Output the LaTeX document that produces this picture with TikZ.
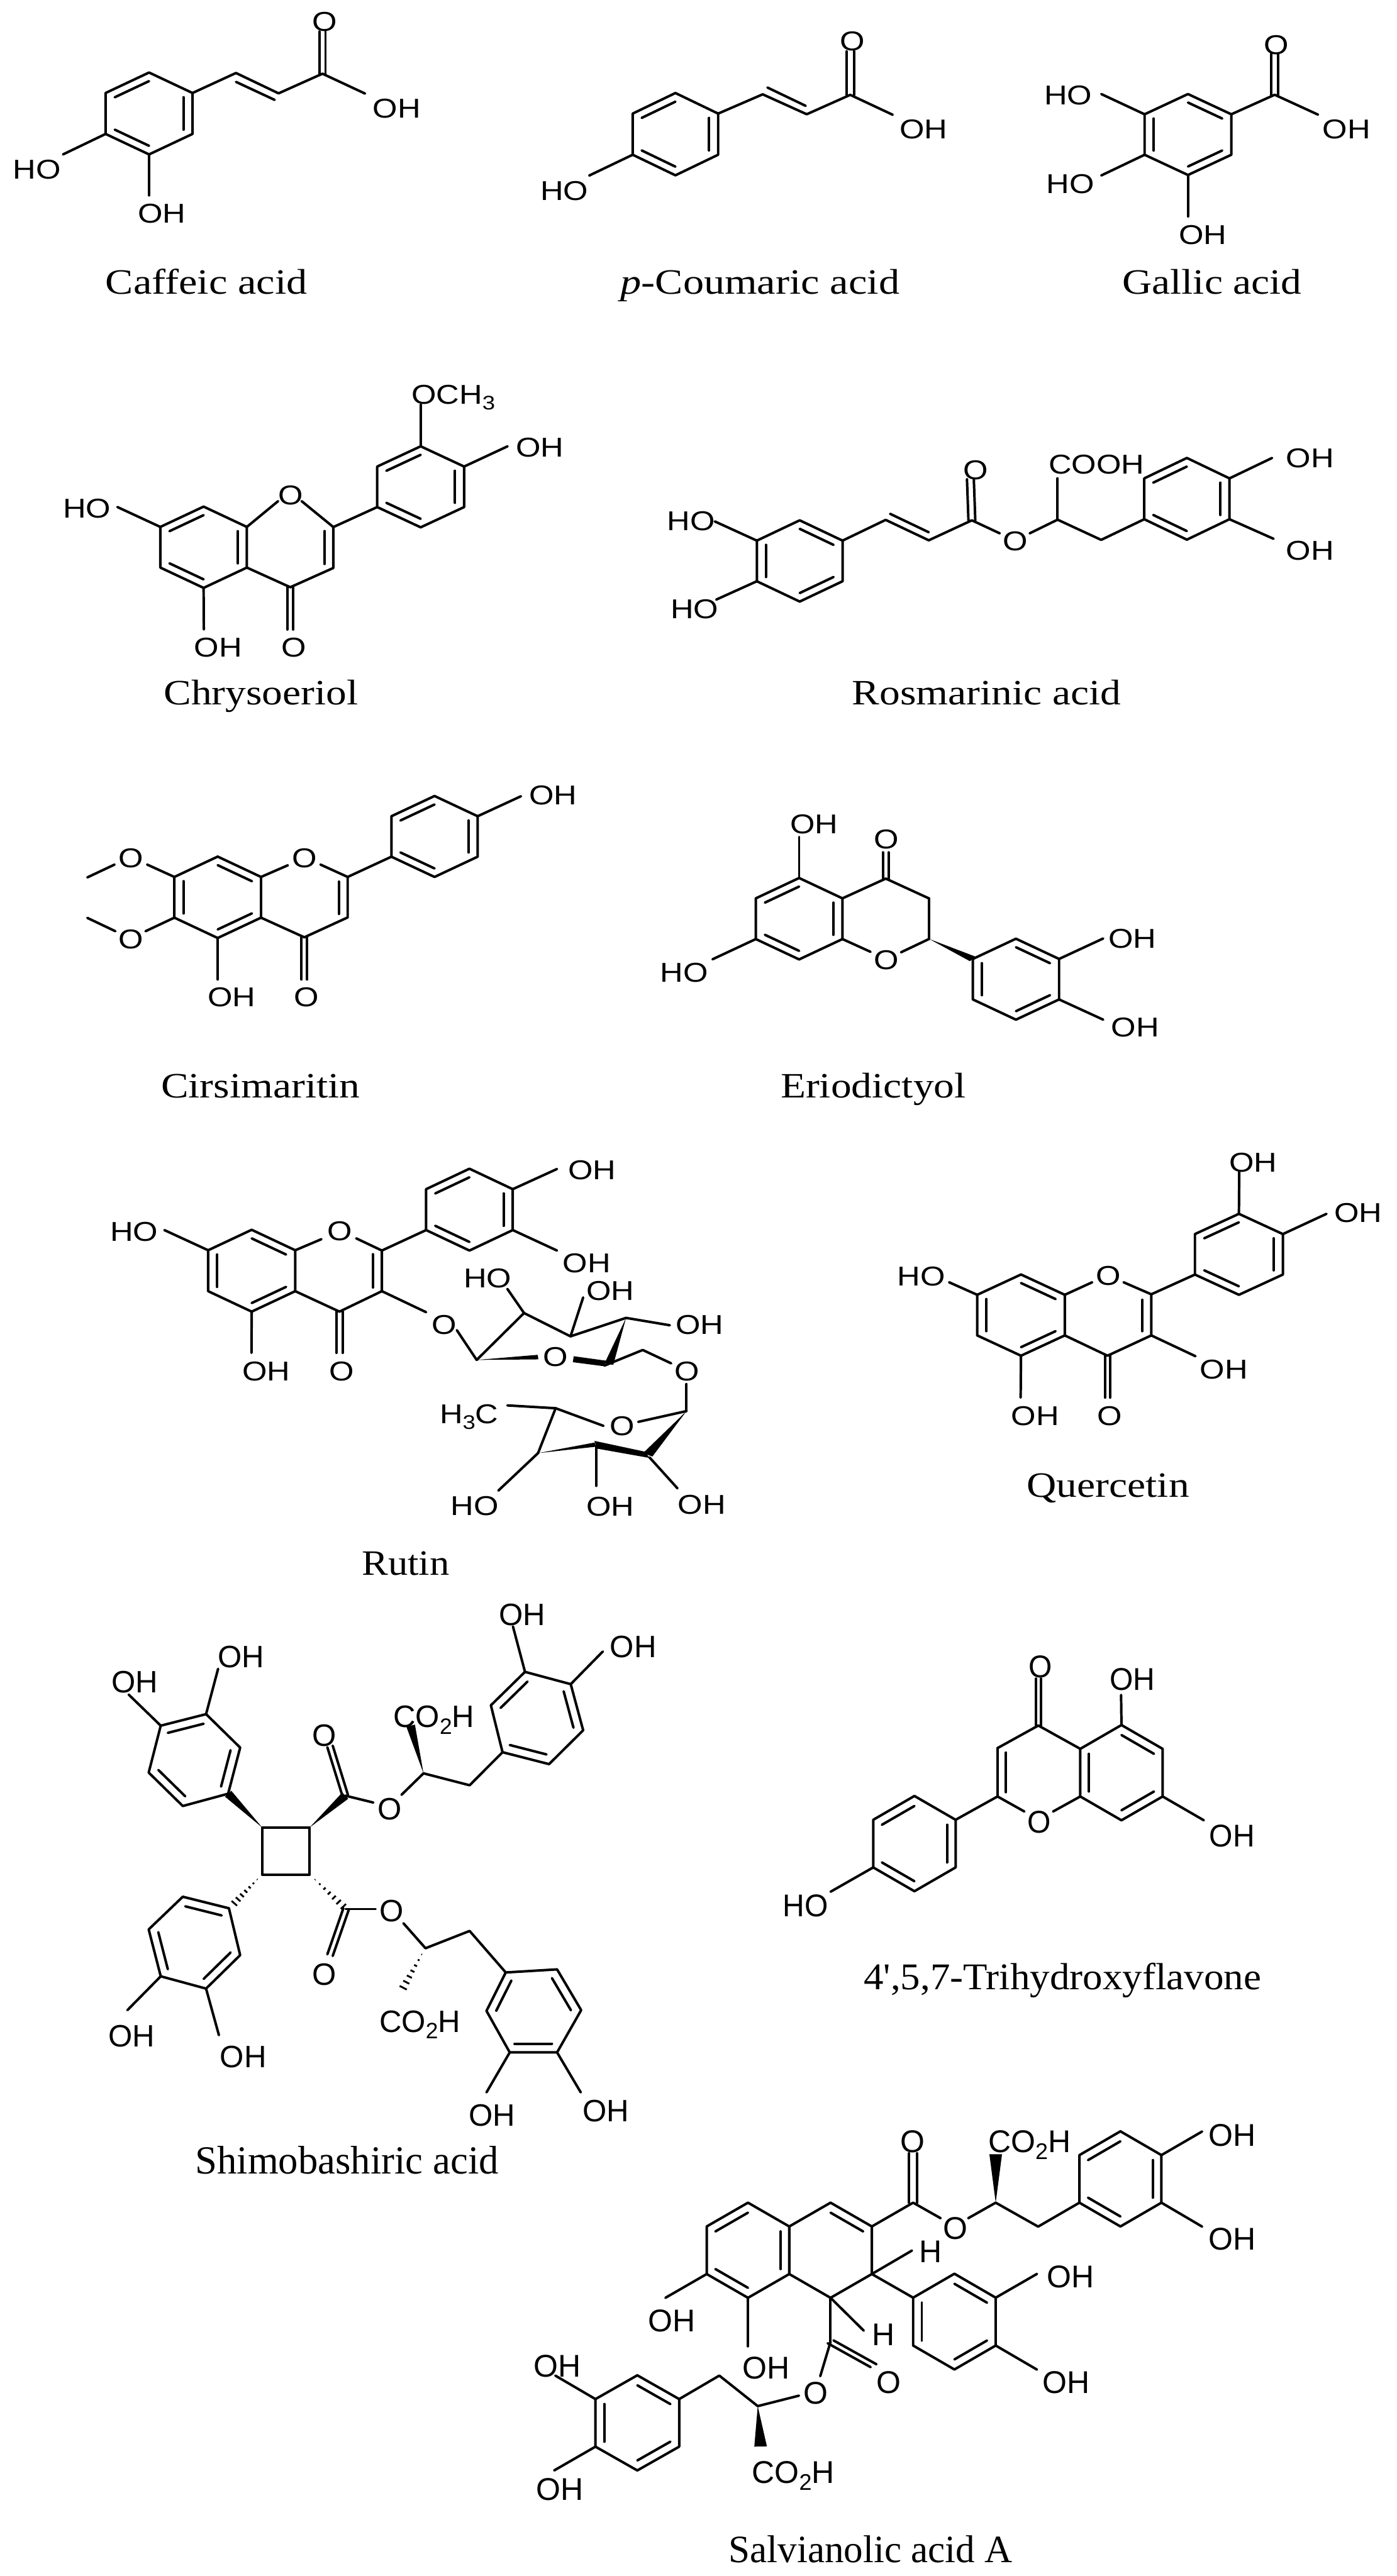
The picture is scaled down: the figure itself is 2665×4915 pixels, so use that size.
\documentclass[tikz,border=0pt]{standalone}
\usepackage{fontspec}
\usepackage{graphicx}
\usetikzlibrary{calc}
\newfontfamily\capfont{Liberation Serif}
\newfontfamily\chemfont{Liberation Sans}
\tikzset{
  bond/.style={line width=.95pt,line cap=round,line join=round,black},
  chemlabel/.style={inner sep=0pt,outer sep=0pt,anchor=base west,black},
  molname/.style={inner sep=0pt,outer sep=0pt,anchor=base,black},
  zoomed/.style n args={4}{shift={(#1,-#2)},xscale=#3/1568,yscale=-#4/1568}
}
\newcommand\labsize{10.4}
\newcommand\labx{1.17}
\newcommand\SetLab[2]{\renewcommand\labsize{#1}\renewcommand\labx{#2}}
\newcommand\Lb[4]{\node[chemlabel] (#1) at (#2,#3) {\scalebox{\labx}[1]{\fontsize{\labsize pt}{\labsize pt}\selectfont\chemfont #4}};}
\newcommand\Sb[1]{\raisebox{-.22em}{\scalebox{.72}{#1}}}
\newcommand\At[3]{\coordinate (#1) at (#2,#3);}
\newcommand\To[4]{\coordinate (#2) at (#3,#4); \draw[bond] (#1) -- (#2);}
\newcommand\Inn[3]{\draw[bond] ($(#1)!.79!(#2)$) -- ($(#1)!.79!(#3)$);}
\newcommand\Hexagon[1]{\draw[bond] (#11)--(#12)--(#13)--(#14)--(#15)--(#16)--cycle;}
\newcommand\Hex[6]{%
  \coordinate (#1c) at (#2,#3);
  \coordinate (#11) at (#2,#3-#5);
  \coordinate (#12) at (#2+#4,#3-#5/2);
  \coordinate (#13) at (#2+#4,#3+#5/2);
  \coordinate (#14) at (#2,#3+#5);
  \coordinate (#15) at (#2-#4,#3+#5/2);
  \coordinate (#16) at (#2-#4,#3-#5/2);
  \Hexagon{#1}
  \foreach \p/\q in {#6} {\Inn{#1c}{#1\p}{#1\q}}
}
\newcommand\Dbl[2]{%
  \draw[bond] ($(#1)!1.4pt!90:(#2)$) -- ($(#2)!1.4pt!-90:(#1)$);
  \draw[bond] ($(#1)!1.4pt!-90:(#2)$) -- ($(#2)!1.4pt!90:(#1)$);}
\newcommand\Wdg[3]{\fill[black] (#1) -- ($(#2)!#3!90:(#1)$) -- ($(#2)!#3!-90:(#1)$) -- cycle;}
\newcommand\Hash[3]{%
  \foreach \t in {.08,.22,.36,.5,.64,.78,.92} {%
    \pgfmathsetlengthmacro\hw{#3*\t}%
    \draw[line width=.7pt,black] ($(#1)!\t!(#2)!\hw!90:(#2)$) -- ($(#1)!\t!(#2)!\hw!-90:(#2)$);}}
\newcommand\Cp[6]{\node[molname] (#1) at (#2,#3) {\scalebox{#5}[1]{\fontsize{#4 pt}{#4 pt}\selectfont\capfont #6}};}
\begin{document}
\begin{tikzpicture}[x=0.2pt,y=0.2pt]
\useasboundingbox (0,0) rectangle (2665,-4915);
\fill[white] (0,0) rectangle (2665,-4915);

% ---------- captions (full-size coordinates)
\begin{scope}[yscale=-1]
\Cp{capA}{394}{561}{13.6}{1.17}{Caffeic acid}
\Cp{capB}{1450}{561}{13.6}{1.17}{{\itshape p}-Coumaric acid}
\Cp{capC}{2312}{561}{13.6}{1.155}{Gallic acid}
\Cp{capD}{498}{1345}{13.6}{1.155}{Chrysoeriol}
\Cp{capE}{1882}{1345}{13.6}{1.155}{Rosmarinic acid}
\Cp{capF}{497}{2094}{13.6}{1.155}{Cirsimaritin}
\Cp{capG}{1666}{2094}{13.6}{1.155}{Eriodictyol}
\Cp{capH}{774}{3005}{13.6}{1.105}{Rutin}
\Cp{capI}{2114}{2857}{13.6}{1.155}{Quercetin}
\Cp{capJ}{662}{4147}{15.2}{.99}{Shimobashiric acid}
\Cp{capK}{2027}{3796}{14.4}{1.05}{4',5,7-Trihydroxyflavone}
\Cp{capL}{1661}{4889}{14.8}{.99}{Salvianolic acid A}
\end{scope}

% ---------- Caffeic acid
\begin{scope}[zoomed={0}{0}{1300}{700}]
\Hex{aR}{343}{485}{100}{175}{6/1,2/3,4/5}
\To{aR2}{a1}{543}{312}
\To{a1}{a2}{641}{399}
\draw[bond] (543,350)--(632,427);
\To{a2}{a3}{742}{315}
\At{a4}{742}{135}
\Dbl{a3}{a4}
\To{a3}{a5}{840}{400}
\To{aR5}{a6}{145}{660}
\To{aR4}{a7}{343}{835}
\Lb{aO}{718}{132}{O}
\Lb{aOH}{858}{503}{OH}
\Lb{aHO}{30}{765}{HO}
\Lb{aOHb}{317}{952}{OH}
\end{scope}

% ---------- p-Coumaric acid
\begin{scope}[yscale=-1]
\Hex{bR}{1288.5}{256}{81.5}{78.5}{6/1,2/3,4/5}
\To{bR2}{b1}{1455}{180}
\To{b1}{b2}{1539}{218}
\draw[bond] (1464,167)--(1537,202);
\To{b2}{b3}{1622}{181}
\At{b4}{1622}{98}
\Dbl{b3}{b4}
\To{b3}{b5}{1703}{219}
\To{bR5}{b6}{1124}{335}
\Lb{bO}{1602}{97}{O}
\Lb{bOH}{1716}{264}{OH}
\Lb{bHO}{1031}{382}{HO}
\end{scope}

% ---------- Gallic acid
\begin{scope}[zoomed={1300}{0}{1365}{700}]
\Hex{cR}{1110}{575}{95}{173}{1/2,3/4,5/6}
\To{cR2}{c1}{1300}{405}
\At{c2}{1300}{230}
\Dbl{c1}{c2}
\To{c1}{c3}{1395}{490}
\To{cR6}{c4}{920}{402}
\To{cR5}{c5}{920}{750}
\To{cR4}{c6}{1110}{925}
\Lb{cO}{1277}{232}{O}
\Lb{cOH}{1405}{592}{OH}
\Lb{cHOa}{795}{448}{HO}
\Lb{cHOb}{800}{827}{HO}
\Lb{cOHb}{1090}{1043}{OH}
\end{scope}

% ---------- Chrysoeriol
\begin{scope}[zoomed={0}{650}{1300}{800}]
\Hex{dA}{468.5}{772.5}{99.5}{152}{6/1,4/5,2/3}
\To{dA2}{d1}{640}{600}
\At{d2}{694}{600}
\At{d3}{767}{697}
\At{d4}{767}{850}
\At{d5}{668}{922}
\draw[bond] (d2)--(d3)--(d4)--(d5)--(dA3);
\draw[bond] (747,712)--(747,835);
\At{d6}{668}{1080}
\Dbl{d5}{d6}
\To{dA4}{d7}{469}{1080}
\To{dA6}{d8}{270}{622}
\Hex{dB}{968}{546.5}{100}{151.5}{6/1,2/3,4/5}
\draw[bond] (d3)--(dB5);
\To{dB1}{d9}{968}{240}
\To{dB2}{d10}{1168}{395}
\Lb{dOr}{640}{614}{O}
\Lb{dO}{647}{1183}{O}
\Lb{dOHa}{447}{1183}{OH}
\Lb{dHO}{145}{662}{HO}
\Lb{dOMe}{947}{237}{OCH\Sb{3}}
\Lb{dOHb}{1187}{435}{OH}
\end{scope}

% ---------- Rosmarinic acid
\begin{scope}[zoomed={1200}{800}{1465}{650}]
\Hex{eA}{348.5}{652}{87.5}{187}{1/2,3/4,5/6}
\To{eA2}{e1}{524}{463}
\To{e1}{e2}{612}{557}
\draw[bond] (533,435)--(612,520);
\To{e2}{e3}{700}{465}
\At{e4}{697}{275}
\Dbl{e3}{e4}
\To{e3}{e5}{757}{525}
\At{e6}{818}{525}
\At{e7}{875}{462}
\draw[bond] (e6)--(e7);
\To{e7}{e8}{875}{272}
\To{e7}{e9}{964}{555}
\Hex{eB}{1139}{366}{87}{188}{6/1,2/3,4/5}
\draw[bond] (e9)--(eB5);
\To{eB2}{e10}{1313}{178}
\To{eB3}{e11}{1316}{550}
\To{eA6}{e12}{175}{470}
\To{eA5}{e13}{178}{830}
\Lb{eO}{683}{278}{O}
\Lb{eOe}{764}{605}{O}
\Lb{eCOOH}{857}{250}{COOH}
\Lb{eOHa}{1342}{222}{OH}
\Lb{eOHb}{1342}{648}{OH}
\Lb{eHOa}{78}{513}{HO}
\Lb{eHOb}{85}{918}{HO}
\end{scope}

% ---------- Cirsimaritin
\begin{scope}[zoomed={100}{1450}{1200}{700}]
\Hex{fA}{412}{587}{108}{174}{1/2,3/4,5/6}
\To{fA2}{f1}{587}{450}
\At{f2}{668}{447}
\At{f3}{736}{500}
\At{f4}{736}{673}
\At{f5}{628}{758}
\draw[bond] (f2)--(f3)--(f4)--(f5)--(fA3);
\draw[bond] (714,520)--(714,658);
\At{f6}{628}{938}
\Dbl{f5}{f6}
\To{fA4}{f7}{412}{938}
\Hex{fB}{952.5}{327}{107.5}{173}{6/1,2/3,4/5}
\draw[bond] (f3)--(fB5);
\To{fB2}{f8}{1168}{155}
\To{fA6}{f9}{236}{447}
\At{f10}{155}{447}
\At{f11}{87}{502}
\draw[bond] (f10)--(f11);
\To{fA5}{f12}{232}{732}
\At{f13}{157}{732}
\At{f14}{87}{675}
\draw[bond] (f13)--(f14);
\Lb{fOr}{598}{460}{O}
\Lb{fO}{602}{1055}{O}
\Lb{fOH}{387}{1055}{OH}
\Lb{fOHb}{1188}{190}{OH}
\Lb{fOa}{165}{460}{O}
\Lb{fOb}{165}{807}{O}
\end{scope}

% ---------- Eriodictyol
\begin{scope}[zoomed={1200}{1450}{1200}{700}]
\Hex{gA}{424}{678.5}{108}{174}{6/1,2/3,4/5}
\To{gA2}{g1}{640}{507}
\To{g1}{g2}{748}{592}
\To{g2}{g3}{748}{765}
\To{g3}{g4}{678}{822}
\At{g5}{602}{820}
\draw[bond] (g5)--(gA3);
\At{g6}{640}{395}
\Dbl{g1}{g6}
\To{gA1}{g7}{424}{330}
\To{gA5}{g8}{208}{852}
\Hex{gB}{964.5}{937}{107.5}{173}{1/2,5/6,3/4}
\Wdg{g3}{gB6}{2.4pt}
\To{gB2}{g9}{1182}{763}
\To{gB3}{g10}{1182}{1110}
\Lb{gOr}{611}{895}{O}
\Lb{gO}{611}{378}{O}
\Lb{gOHa}{402}{316}{OH}
\Lb{gHO}{78}{948}{HO}
\Lb{gOHb}{1195}{803}{OH}
\Lb{gOHc}{1202}{1182}{OH}
\end{scope}

% ---------- Rutin
\begin{scope}[zoomed={150}{2180}{1350}{850}]
\Hex{hA}{383.5}{451}{96.5}{144}{1/2,3/4,5/6}
\To{hA2}{h1}{538}{340}
\At{h2}{615}{337}
\At{h3}{672}{380}
\At{h4}{672}{523}
\At{h5}{578}{595}
\draw[bond] (h2)--(h3)--(h4)--(h5)--(hA3);
\draw[bond] (652,393)--(652,510);
\At{h6}{578}{740}
\Dbl{h5}{h6}
\To{hA4}{h7}{383}{740}
\To{hA6}{h8}{190}{308}
\Hex{hB}{866}{236}{96}{144}{6/1,2/3,4/5}
\draw[bond] (h3)--(hB5);
\To{hB2}{h9}{1060}{93}
\To{hB3}{h10}{1060}{380}
\To{h4}{h11}{770}{597}
\At{h12}{838}{660}
\To{h12}{h13}{882}{765}
\To{h13}{h14}{987}{600}
\To{h14}{h15}{1090}{682}
\To{h15}{h16}{1213}{617}
\At{h17}{1018}{755}
\Wdg{h13}{h17}{1.6pt}
\At{h18}{1175}{780}
\Wdg{h16}{h18}{2pt}
\fill[black] (1097,752)--(1170,768)--(1163,787)--(1095,773)--cycle;
\At{h19}{1165}{785}
\To{h19}{h20}{1250}{730}
\To{h20}{h21}{1313}{777}
\To{h14}{h22}{950}{515}
\To{h15}{h23}{1118}{545}
\To{h16}{h24}{1310}{643}
\At{h25}{1347}{850}
\To{h25}{h26}{1347}{945}
\To{h26}{h27}{1240}{983}
\At{h28}{1163}{997}
\To{h28}{h29}{1057}{935}
\To{h29}{h30}{950}{925}
\To{h29}{h31}{1018}{1093}
\At{h32}{1145}{1063}
\Wdg{h31}{h32}{1.5pt}
\fill[black] (1143,1050)--(1255,1088)--(1265,1110)--(1148,1077)--cycle;
\At{h33}{1261}{1099}
\Wdg{h26}{h33}{2.4pt}
\To{h31}{h34}{930}{1225}
\At{h35}{1147}{1070}
\To{h35}{h36}{1147}{1208}
\At{h37}{1265}{1108}
\To{h37}{h38}{1327}{1217}
\Lb{hOr}{551}{345}{O}
\Lb{hO}{555}{838}{O}
\Lb{hOHa}{363}{838}{OH}
\Lb{hHOa}{70}{347}{HO}
\Lb{hOHb}{1085}{130}{OH}
\Lb{hOHc}{1073}{458}{OH}
\Lb{hOe}{782}{675}{O}
\Lb{hOs}{1029}{788}{O}
\Lb{hOl}{1320}{838}{O}
\Lb{hHOb}{853}{510}{HO}
\Lb{hOHd}{1125}{555}{OH}
\Lb{hOHe}{1323}{675}{OH}
\Lb{hOt}{1177}{1032}{O}
\Lb{hMe}{800}{988}{H\Sb{3}C}
\Lb{hHOc}{825}{1313}{HO}
\Lb{hOHf}{1125}{1315}{OH}
\Lb{hOHg}{1328}{1308}{OH}
\end{scope}

% ---------- Quercetin
\begin{scope}[zoomed={1600}{2150}{1065}{750}]
\Hex{iA}{512}{751}{123}{162}{1/2,3/4,5/6}
\To{iA2}{i1}{712}{620}
\At{i2}{800}{620}
\At{i3}{878}{668}
\At{i4}{878}{832}
\At{i5}{755}{913}
\draw[bond] (i2)--(i3)--(i4)--(i5)--(iA3);
\draw[bond] (853,690)--(853,815);
\At{i6}{755}{1080}
\Dbl{i5}{i6}
\To{iA4}{i7}{511}{1080}
\To{i4}{i8}{1002}{915}
\To{iA6}{i9}{310}{620}
\Hex{iB}{1124}{508.5}{123.5}{161.5}{6/1,2/3,4/5}
\draw[bond] (i3)--(iB5);
\To{iB1}{i10}{1125}{180}
\To{iB2}{i11}{1370}{347}
\Lb{iOr}{722}{632}{O}
\Lb{iO}{727}{1190}{O}
\Lb{iOHa}{485}{1192}{OH}
\Lb{iOHb}{1015}{1005}{OH}
\Lb{iHO}{165}{634}{HO}
\Lb{iOHc}{1097}{180}{OH}
\Lb{iOHd}{1392}{380}{OH}
\end{scope}

% ---------- Shimobashiric acid
\begin{scope}[zoomed={100}{3030}{1200}{1150}]
\SetLab{11.8}{1}
\At{js1}{523}{623}\At{js2}{641}{623}\At{js3}{641}{746}\At{js4}{523}{746}
\draw[bond] (js1)--(js2)--(js3)--(js4)--cycle;
% upper left ring
\At{jA1}{270}{358}\At{jA2}{383}{328}\At{jA3}{468}{415}\At{jA4}{438}{535}\At{jA5}{325}{567}\At{jA6}{240}{480}\At{jAc}{354}{447}
\Hexagon{jA}
\Inn{jAc}{jA1}{jA2}\Inn{jAc}{jA3}{jA4}\Inn{jAc}{jA5}{jA6}
\Wdg{js1}{jA4}{2.2pt}
\To{jA1}{j1}{190}{277}
\To{jA2}{j2}{413}{210}
% upper right ester
\At{j3}{730}{540}
\Wdg{js2}{j3}{2.2pt}
\At{j4}{692}{412}
\Dbl{j3}{j4}
\To{j3}{j5}{800}{558}
\At{j6}{870}{538}
\To{j6}{j7}{925}{482}
\At{j8}{893}{358}
\Wdg{j7}{j8}{2.2pt}
\To{j7}{j9}{1040}{513}
\At{jB1}{1122}{427}\At{jB2}{1238}{458}\At{jB3}{1323}{370}\At{jB4}{1292}{250}\At{jB5}{1178}{218}\At{jB6}{1093}{305}\At{jBc}{1208}{338}
\Hexagon{jB}
\Inn{jBc}{jB1}{jB2}\Inn{jBc}{jB3}{jB4}\Inn{jBc}{jB5}{jB6}
\draw[bond] (j9)--(jB1);
\To{jB5}{j10}{1148}{100}
\To{jB4}{j11}{1372}{165}
% lower left ring
\At{jC1}{440}{833}\At{jC2}{325}{803}\At{jC3}{240}{888}\At{jC4}{270}{1010}\At{jC5}{383}{1042}\At{jC6}{468}{955}\At{jCc}{354}{922}
\Hexagon{jC}
\Inn{jCc}{jC1}{jC2}\Inn{jCc}{jC3}{jC4}\Inn{jCc}{jC5}{jC6}
\At{j12}{516}{752}
\At{j13}{448}{826}
\Hash{j12}{j13}{2pt}
\To{jC4}{j14}{187}{1098}
\To{jC5}{j15}{415}{1163}
% lower right ester
\At{j16}{732}{835}
\At{j17}{648}{752}
\Hash{j17}{j16}{2pt}
\To{j16}{j18}{805}{835}
\At{j19}{692}{955}
\Dbl{j16}{j19}
\At{j20}{875}{872}
\To{j20}{j21}{930}{937}
\To{j21}{j22}{1040}{892}
\At{j23}{925}{945}
\At{j24}{870}{1048}
\Hash{j23}{j24}{2.2pt}
\At{jD1}{1130}{1000}\At{jD2}{1258}{992}\At{jD3}{1318}{1098}\At{jD4}{1258}{1208}\At{jD5}{1140}{1208}\At{jD6}{1082}{1100}\At{jDc}{1197}{1100}
\Hexagon{jD}
\Inn{jDc}{jD1}{jD6}\Inn{jDc}{jD2}{jD3}\Inn{jDc}{jD4}{jD5}
\draw[bond] (j22)--(jD1);
\To{jD5}{j25}{1082}{1312}
\To{jD4}{j26}{1317}{1312}
\Lb{jOHa}{147}{272}{OH}
\Lb{jOHb}{413}{207}{OH}
\Lb{jO}{648}{412}{O}
\Lb{jOe}{811}{602}{O}
\Lb{jCOa}{850}{362}{CO\Sb{2}H}
\Lb{jOHc}{1113}{97}{OH}
\Lb{jOHd}{1390}{180}{OH}
\Lb{jOHe}{140}{1194}{OH}
\Lb{jOHf}{418}{1248}{OH}
\Lb{jOf}{816}{868}{O}
\Lb{jOg}{648}{1033}{O}
\Lb{jCOb}{815}{1155}{CO\Sb{2}H}
\Lb{jOHg}{1038}{1400}{OH}
\Lb{jOHh}{1322}{1388}{OH}
\end{scope}

% ---------- 4',5,7-Trihydroxyflavone
\begin{scope}[zoomed={1400}{3100}{1100}{750}]
\SetLab{12}{.96}
\Hex{kA}{1054}{590}{112}{190}{1/2,3/4,5/6}
\To{kA6}{k1}{828}{402}
\To{k1}{k2}{717}{492}
\To{k2}{k3}{717}{685}
\draw[bond] (740,510)--(740,668);
\To{k3}{k4}{790}{745}
\At{k5}{868}{745}
\draw[bond] (k5)--(kA5);
\At{k6}{828}{215}
\Dbl{k1}{k6}
\To{kA1}{k7}{1053}{280}
\To{kA3}{k8}{1278}{780}
\Hex{kB}{491}{873}{112}{190}{6/1,2/3,4/5}
\draw[bond] (k3)--(kB2);
\To{kB5}{k9}{263}{1065}
\Lb{kOr}{799}{830}{O}
\Lb{kO}{801}{210}{O}
\Lb{kOHa}{1022}{262}{OH}
\Lb{kOHb}{1293}{885}{OH}
\Lb{kHO}{133}{1163}{HO}
\end{scope}

% ---------- Salvianolic acid A
\begin{scope}[zoomed={950}{4020}{1715}{895}]
\SetLab{12}{1}
\Hex{lA}{436}{479}{72}{159}{6/1,2/3,4/5}
\Hex{lB}{580}{479}{72}{159}{1/2}
\To{lB2}{l1}{724}{320}
\At{l2}{724}{155}
\Dbl{l1}{l2}
\To{l1}{l3}{772}{372}
\At{l4}{820}{372}
\To{l4}{l5}{868}{320}
\At{l6}{868}{158}
\Wdg{l5}{l6}{2.2pt}
\To{l5}{l7}{942}{400}
\Hex{lC}{1085.5}{240.5}{71.5}{159}{6/1,2/3,4/5}
\draw[bond] (l7)--(lC5);
\To{lC2}{l8}{1228}{82}
\To{lC3}{l9}{1228}{400}
\To{lB3}{l10}{722}{480}
\Hex{lD}{796}{717.5}{72}{160}{1/2,5/6,3/4}
\draw[bond] (lB3)--(lD6);
\To{lD2}{l11}{940}{558}
\To{lD3}{l12}{940}{878}
\To{lA5}{l13}{292}{638}
\To{lA4}{l14}{436}{800}
\To{lB4}{l15}{638}{748}
\To{lB4}{l16}{580}{785}
\At{l17}{655}{865}
\Dbl{l16}{l17}
\To{l16}{l18}{562}{900}
\At{l19}{525}{965}
\To{l19}{l20}{453}{1000}
\To{l20}{l21}{386}{898}
\At{l22}{458}{1135}
\Wdg{l20}{l22}{2.2pt}
\Hex{lE}{243}{1056}{73}{159}{1/2,3/4,5/6}
\draw[bond] (l21)--(lE2);
\To{lE6}{l23}{100}{898}
\To{lE5}{l24}{98}{1215}
\Lb{lO}{702}{152}{O}
\Lb{lOe}{777}{442}{O}
\Lb{lCOa}{855}{152}{CO\Sb{2}H}
\Lb{lOHa}{1240}{130}{OH}
\Lb{lOHb}{1240}{477}{OH}
\Lb{lHa}{735}{520}{H}
\Lb{lOHc}{958}{603}{OH}
\Lb{lOHd}{950}{958}{OH}
\Lb{lOHe}{262}{752}{OH}
\Lb{lOHf}{427}{908}{OH}
\Lb{lHb}{652}{798}{H}
\Lb{lOc}{660}{958}{O}
\Lb{lOd}{533}{993}{O}
\Lb{lCOb}{443}{1258}{CO\Sb{2}H}
\Lb{lOHg}{62}{902}{OH}
\Lb{lOHh}{67}{1315}{OH}
\end{scope}
\end{tikzpicture}
\end{document}
